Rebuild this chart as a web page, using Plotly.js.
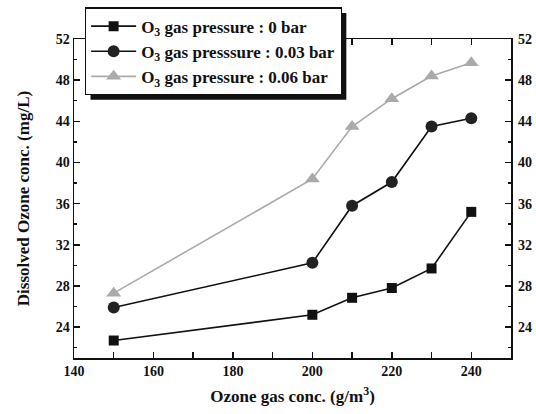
<!DOCTYPE html>
<html><head><meta charset="utf-8">
<script src="https://cdn.plot.ly/plotly-3.0.1.min.js"></script>
<style>
body{margin:0;background:#fff}#c{width:536px;height:414px}
#c svg text{font-family:'Liberation Serif', serif !important;}
</style>
</head><body><div id="c"></div>
<script>
const xVals = [150, 200, 210, 220, 230, 240];
const p0 = [22.7, 25.2, 26.85, 27.8, 29.7, 35.2];
const p003 = [25.9, 30.25, 35.8, 38.1, 43.5, 44.3];
const p006 = [27.3, 38.4, 43.5, 46.2, 48.4, 49.7];
const names = ['O<sub>3</sub> gas pressure : 0 bar', 'O<sub>3</sub> gas presssure : 0.03 bar', 'O<sub>3</sub> gas pressure : 0.06 bar'];
const yTicks = [24, 28, 32, 36, 40, 44, 48, 52];
const xTicks = [140, 160, 180, 200, 220, 240];

const FAM = 'Liberation Serif';
const font = {family: FAM, color: '#111'};
const traces = [
  {x: xVals, y: p0, name: names[0], mode: 'lines+markers', line: {color: '#111', width: 1.6}, marker: {symbol: 'square', size: 10, color: '#111'}},
  {x: xVals, y: p003, name: names[1], mode: 'lines+markers', line: {color: '#111', width: 1.6}, marker: {symbol: 'circle', size: 12, color: '#222'}},
  {x: xVals, y: p006, name: names[2], mode: 'lines+markers', line: {color: '#aaa', width: 1.6}, marker: {symbol: 'triangle-up', size: 13, color: '#aaa'}},
  {x: xVals, y: p0, yaxis: 'y2', mode: 'markers', marker: {opacity: 0}, showlegend: false, hoverinfo: 'skip'}
];
const tickFont = {family: FAM, color: '#111', size: 14, weight: 'bold'};
const titleFont = {family: FAM, color: '#111', size: 17, weight: 'bold'};
const L = 74, R = 25, T = 39, B = 56;
const layout = {
  width: 536, height: 414,
  margin: {l: L, r: R, t: T, b: B, autoexpand: false},
  paper_bgcolor: '#fff', plot_bgcolor: '#fff',
  font: font,
  showlegend: true,
  legend: {x: 0.025, y: 1.099, xanchor: 'left', yanchor: 'top', bgcolor: '#fff', bordercolor: '#111', borderwidth: 1.2,
    font: {family: FAM, color: '#111', size: 17, weight: 'bold'}, itemwidth: 45, tracegroupgap: 0},
  xaxis: {range: [140, 250], tickvals: xTicks, ticks: 'inside', ticklen: 6, tickwidth: 1.5, tickcolor: '#111',
    minor: {dtick: 10, ticks: 'inside', ticklen: 3, tickcolor: '#111'},
    showline: true, linecolor: '#111', linewidth: 1.5, mirror: 'allticks', showgrid: false, zeroline: false,
    tickfont: tickFont,
    title: {text: 'Ozone gas conc. (g/m<sup>3</sup>)', font: titleFont, standoff: 12}},
  yaxis: {range: [21, 52], tickvals: yTicks, ticks: 'inside', ticklen: 6, tickwidth: 1.5, tickcolor: '#111',
    minor: {dtick: 2, ticks: 'inside', ticklen: 3, tickcolor: '#111'},
    showline: true, linecolor: '#111', linewidth: 1.5, mirror: 'allticks', showgrid: false, zeroline: false,
    tickfont: tickFont,
    title: {text: 'Dissolved Ozone conc. (mg/L)', font: titleFont, standoff: 22}},
  yaxis2: {overlaying: 'y', side: 'right', range: [21, 52], tickvals: yTicks, ticks: '', ticklabelstandoff: 6, showgrid: false, zeroline: false,
    showline: false, tickfont: tickFont},
  shapes: []
};
Plotly.newPlot('c', traces, layout, {displayModeBar: false, staticPlot: true}).then(function(gd){
  const lg = gd.querySelector('.legend .bg');
  if (lg) {
    const r = lg.getBoundingClientRect();
    const cr = gd.getBoundingClientRect();
    const W = 536 - L - R, H = 414 - T - B;
    const x0 = (r.left - cr.left + 5 - L) / W, x1 = (r.right - cr.left + 5 - L) / W;
    const y0 = 1 - (r.bottom - cr.top + 5 - T) / H, y1 = 1 - (r.top - cr.top + 5 - T) / H;
    Plotly.relayout(gd, {shapes: [{type: 'rect', xref: 'paper', yref: 'paper', x0: x0, x1: x1, y0: y0, y1: y1, fillcolor: '#111', line: {width: 0}, layer: 'above'}]});
  }
});
</script></body></html>
